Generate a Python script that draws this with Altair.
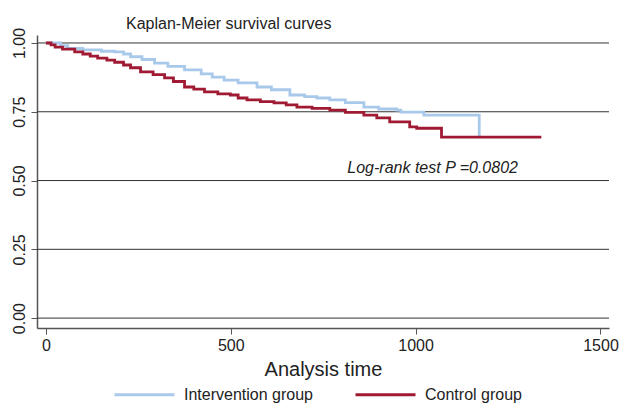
import altair as alt
import pandas as pd

# Kaplan-Meier step points
ctrl_t = [0, 14, 25, 45, 78, 100, 120, 140, 165, 186, 210, 229, 256, 290, 321, 345, 375, 400, 429, 465, 499, 520, 544, 580, 617, 650, 679, 720, 768, 810, 860, 895, 930, 984, 1003, 1070, 1340]
ctrl_s = [1.0, 0.993, 0.985, 0.978, 0.968, 0.96, 0.952, 0.945, 0.938, 0.93, 0.92, 0.91, 0.895, 0.885, 0.873, 0.86, 0.84, 0.832, 0.822, 0.815, 0.811, 0.80, 0.793, 0.787, 0.782, 0.775, 0.767, 0.762, 0.756, 0.748, 0.738, 0.728, 0.713, 0.695, 0.69, 0.658, 0.658]
int_t = [0, 40, 59, 100, 150, 186, 210, 229, 260, 294, 330, 375, 420, 450, 482, 520, 571, 610, 660, 700, 733, 768, 810, 860, 900, 949, 960, 1022, 1172]
int_s = [1.0, 0.99, 0.98, 0.975, 0.97, 0.968, 0.96, 0.95, 0.94, 0.927, 0.915, 0.902, 0.888, 0.876, 0.865, 0.855, 0.84, 0.83, 0.811, 0.805, 0.8, 0.793, 0.783, 0.767, 0.76, 0.756, 0.749, 0.738, 0.658]

groups = ["Intervention group", "Control group"]
colors = ["#a9c9ea", "#a01a33"]
y_ticks = [0.0, 0.25, 0.5, 0.75, 1.0]
x_ticks = [0, 500, 1000, 1500]
title_text = "Kaplan-Meier survival curves"
note_text = "Log-rank test P =0.0802"

df = pd.concat([
    pd.DataFrame({"t": int_t, "s": int_s, "group": groups[0], "ord": 0}),
    pd.DataFrame({"t": ctrl_t, "s": ctrl_s, "group": groups[1], "ord": 1}),
])

FONT = "Liberation Sans"
xscale = alt.Scale(domain=[-24, 1523], nice=False, zero=False)
yscale = alt.Scale(domain=[-0.036, 1.029], nice=False, zero=False)

grid = alt.Chart(pd.DataFrame({"y": y_ticks})).mark_rule(color="#333333", strokeWidth=1).encode(
    y=alt.Y("y:Q", scale=yscale,
            axis=alt.Axis(values=y_ticks, format=".2f", labelAngle=270, labelAlign="center",
                          labelBaseline="bottom", labelPadding=4, labelFontSize=16, labelFont=FONT,
                          labelColor="#222", tickSize=6, tickColor="#555", domainColor="#555",
                          domainWidth=1.5, grid=False, title=None)),
)

lines = alt.Chart(df).mark_line(interpolate="step-after", strokeWidth=2.8).encode(
    x=alt.X("t:Q", scale=xscale,
            axis=alt.Axis(values=x_ticks, format="d", labelFontSize=16, labelFont=FONT, labelColor="#222",
                          tickSize=6, tickColor="#555", domainColor="#555", domainWidth=1.5,
                          labelPadding=3, grid=False, title="Analysis time", titleFont=FONT,
                          titleFontSize=20, titleFontWeight="normal", titleColor="#222",
                          titlePadding=6)),
    y=alt.Y("s:Q", scale=yscale),
    color=alt.Color("group:N", scale=alt.Scale(domain=groups, range=colors),
                    legend=alt.Legend(title=None, orient="none", legendX=76, legendY=328,
                                      direction="horizontal", symbolType="stroke",
                                      symbolSize=3600, symbolStrokeWidth=3, labelFont=FONT,
                                      labelFontSize=16, labelColor="#222", labelOffset=8,
                                      columnPadding=36)),
    order=alt.Order("ord:Q"),
    detail="group:N",
)

note = alt.Chart(pd.DataFrame({"x": [1046], "y": [0.545], "txt": [note_text]})).mark_text(
    font=FONT, fontSize=16, fontStyle="italic", align="center", baseline="middle", color="#222"
).encode(x=alt.X("x:Q", scale=xscale), y=alt.Y("y:Q", scale=yscale), text="txt:N")

title = alt.Chart(pd.DataFrame({"txt": [title_text]})).mark_text(
    font=FONT, fontSize=16, align="left", baseline="middle", color="#222"
).encode(x=alt.value(89), y=alt.value(-11), text="txt:N")

chart = alt.layer(grid, lines, note, title).properties(
    width=572, height=293,
    padding={"left": 29, "top": 27, "right": 10, "bottom": 78},
    autosize=alt.AutoSizeParams(type="none"),
).configure_view(stroke=None)

chart.save("out.html", embed_options={"renderer": "svg", "actions": False})
